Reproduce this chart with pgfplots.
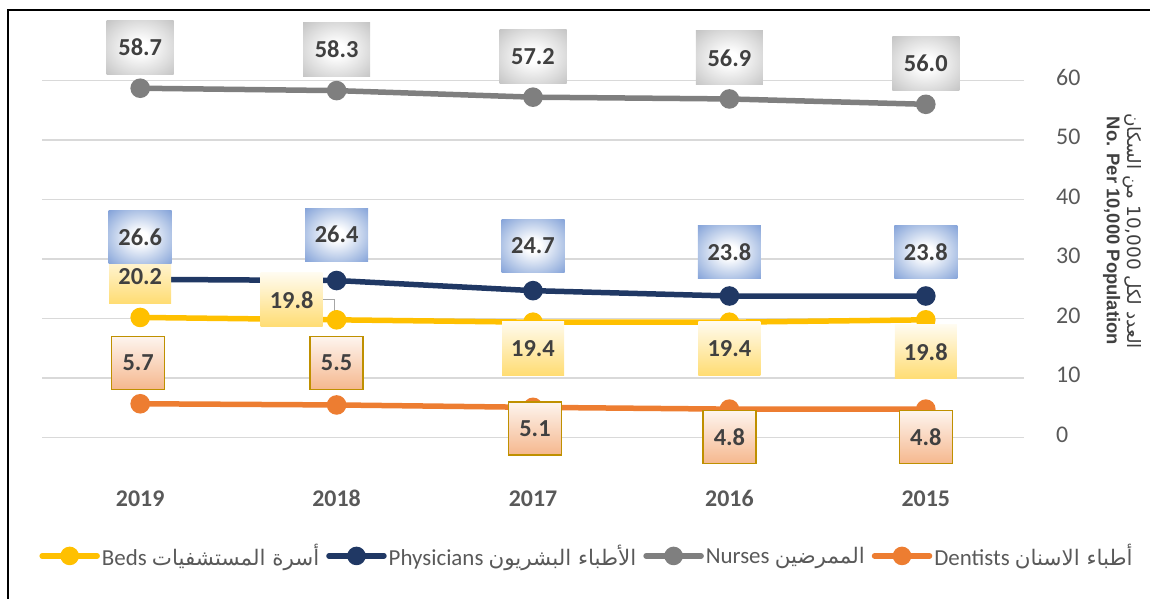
\documentclass[border=0pt]{standalone}
\usepackage{pgfplots}
\pgfplotsset{compat=1.18}
\usepackage{pgfplotstable}
\usepackage{fontspec}
\setmainfont{Carlito}
\newfontfamily\arabicfont[Script=Arabic]{DejaVu Sans}
\newfontfamily\arialfont{Liberation Sans}
\TeXXeTstate=1

\definecolor{bedsc}{HTML}{FFC000}
\definecolor{physc}{HTML}{203864}
\definecolor{nursc}{HTML}{7F7F7F}
\definecolor{dentc}{HTML}{ED7D31}
\definecolor{txt}{HTML}{404040}
\definecolor{tickc}{HTML}{595959}
\definecolor{gridc}{HTML}{D9D9D9}
\definecolor{blueA}{HTML}{B4C7E7}
\definecolor{blueE}{HTML}{7A9BD6}
\definecolor{blueD}{HTML}{557FCB}
\definecolor{blueC}{HTML}{4472C4}
\definecolor{grayA}{HTML}{DCDCDC}
\definecolor{grayE}{HTML}{BFBFBF}
\definecolor{grayD}{HTML}{A8A8A8}
\definecolor{grayC}{HTML}{999999}
\definecolor{goldc}{HTML}{BF9000}
\pgfdeclareradialshading{blueglow}{\pgfpoint{0bp}{0bp}}{color(0bp)=(white); color(6bp)=(white); color(24bp)=(blueA); color(38bp)=(blueE); color(54bp)=(blueD); color(71bp)=(blueC)}
\pgfdeclareradialshading{grayglow}{\pgfpoint{0bp}{0bp}}{color(0bp)=(white); color(6bp)=(white); color(24bp)=(grayA); color(38bp)=(grayE); color(54bp)=(grayD); color(71bp)=(grayC)}

% label offsets in px (dy > 0 means above the point)
\pgfplotstableread{
x y dx dy
0 20.2 0 41
1 19.8 -45 20
2 19.4 0 -26
3 19.4 0 -26
4 19.8 0 -32
}\beds
\pgfplotstableread{
x y dx dy
0 26.6 0 42
1 26.4 0 46
2 24.7 0 45
3 23.8 0 44
4 23.8 0 44
}\phys
\pgfplotstableread{
x y dx dy
0 58.7 0 41
1 58.3 0 41
2 57.2 0 41
3 56.9 0 41
4 56.0 0 41
}\nurs
\pgfplotstableread{
x y dx dy
0 5.7 -2 41
1 5.5 0 42
2 5.1 2 -21
3 4.8 0 -28
4 4.8 0 -28
}\dent

\newcommand{\ar}[1]{{\arabicfont\fontsize{21.5}{23}\selectfont\beginR #1\endR}}

\pgfplotsset{
  lbl/.style={forget plot, draw=none, mark=none,
    point meta=y,
    nodes near coords={\pgfmathprintnumber[fixed,fixed zerofill,precision=1]{\pgfplotspointmeta}},
    visualization depends on={\thisrow{dx} \as \labdx},
    visualization depends on={\thisrow{dy} \as \labdy},
    every node near coord/.append style={anchor=center, xshift=\labdx bp, yshift=\labdy bp,
      font=\fontsize{24.5}{24.5}\selectfont\bfseries, text=txt, inner sep=0pt, #1}},
  ser/.style={#1, line width=5.5bp, line cap=round, mark=*, mark size=7bp, mark options={solid, fill=#1}},
}

\begin{document}
\begin{tikzpicture}
\useasboundingbox (0,0) rectangle (1150bp,599bp);
\draw[black, line width=2bp] (8bp,-5bp) -- (8bp,589bp) -- (1160bp,589bp);
\begin{axis}[
  at={(42bp,161.3bp)}, anchor=south west,
  scale only axis, width=982bp, height=357.2bp,
  xmin=-0.5, xmax=4.5, ymin=0, ymax=60,
  xtick={0,...,4}, xticklabels={2019,2018,2017,2016,2015},
  ytick={0,10,...,60},
  yticklabel pos=right,
  axis line style={draw=none},
  major tick length=0pt,
  ymajorgrids, grid style={draw=gridc, line width=1.5bp},
  clip=false,
  /pgf/number format/assume math mode=true,
  xticklabel style={font=\fontsize{24}{24}\selectfont\bfseries, text=tickc, anchor=center, yshift=-61bp},
  yticklabel style={font=\fontsize{24}{24}\selectfont, text=tickc, anchor=west, inner sep=0pt, xshift=32bp, yshift=3bp},
  ylabel={{\arabicfont\beginR العدد لكل \beginL 10,000\endL{} من السكان\endR}\\{\arialfont\bfseries No. Per 10,000 Population}},
  ylabel style={at={(axis description cs:1.1003,0.5787)}, anchor=center, rotate=180, align=center,
    font=\fontsize{18.5}{21}\selectfont, text=txt},
  legend columns=4,
  legend cell align=left,
  legend style={at={(axis description cs:0.555,-0.331)}, anchor=center, draw=none, fill=none,
    font=\fontsize{23}{23}\selectfont, text=tickc, inner sep=0pt,
    /tikz/every even column/.append style={column sep=5bp}},
  legend image code/.code={\draw[mark repeat=2, mark phase=2, #1, mark size=6.5bp] plot coordinates {(0bp,0bp) (27.5bp,0bp) (55bp,0bp)};},
]
\addplot[ser=bedsc] table[x=x,y=y]{\beds};
\addlegendentry{Beds \ar{أسرة المستشفيات}}
\addplot[ser=physc] table[x=x,y=y]{\phys};
\addlegendentry{Physicians \ar{الأطباء البشريون}}
\addplot[ser=nursc] table[x=x,y=y]{\nurs};
\addlegendentry{Nurses \ar{الممرضين}}
\addplot[ser=dentc] table[x=x,y=y]{\dent};
\addlegendentry{Dentists \ar{أطباء الاسنان}}

% leader line of the 2018 beds label
\draw[black!35, line width=1bp] ([xshift=-14bp,yshift=20bp]axis cs:1,19.8) -- ([xshift=-2bp,yshift=20bp]axis cs:1,19.8) -- ([xshift=-2bp,yshift=7bp]axis cs:1,19.8);

\addplot[lbl={minimum width=53bp, minimum height=53bp, top color=dentc!8!white, bottom color=dentc!55!white, draw=goldc, line width=1.5bp}] table[x=x,y=y]{\dent};
\addplot[lbl={minimum width=67bp, minimum height=54bp, shade, shading=grayglow}] table[x=x,y=y]{\nurs};
\addplot[lbl={minimum width=62bp, minimum height=54bp, top color=bedsc!6!white, bottom color=bedsc!55!white}] table[x=x,y=y]{\beds};
\addplot[lbl={minimum width=63bp, minimum height=53bp, shade, shading=blueglow}] table[x=x,y=y]{\phys};
\end{axis}
\end{tikzpicture}
\end{document}
